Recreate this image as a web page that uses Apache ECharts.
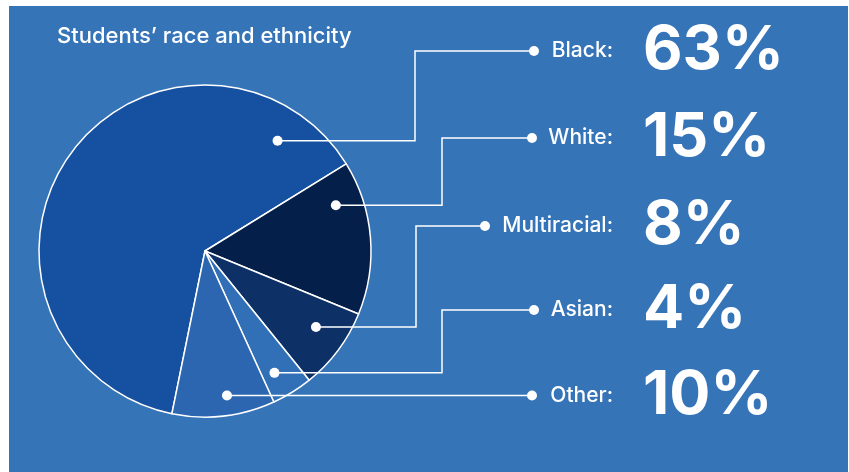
<!DOCTYPE html>
<html><head><meta charset="utf-8">
<script src="https://cdn.jsdelivr.net/npm/echarts@6/dist/echarts.min.js"></script>
<style>html,body{margin:0;padding:0;background:#fff}#c{width:849px;height:472px}</style>
</head><body><div id="c"></div>
<script>
// ---- data ----
const categories = ['Black', 'White', 'Multiracial', 'Asian', 'Other'];
const shares = [63, 15, 8, 4, 10];
const titleText = 'Students’ race and ethnicity';

// ---- styles / layout ----
const sliceColors = ['#1650a0', '#04204a', '#0d3167', '#3170b6', '#2c66b0'];
const CX = 205, CY = 251, R = 166, START = 258.5;
const rowY = [51, 138, 226, 310, 396];
const elbowX = [415, 442, 416, 442, null];
const tipX = [534, 532, 485, 534, 532];
const anchorFrac = [0.89, 0.23, 0.42, 0.64, 0.44];
const anchorRad = [0.795, 0.835, 0.81, 0.845, 0.88];
const nameRight = 613, valueLeft = 643;
const FONT = 'Inter, "Open Sans", sans-serif';

const total = shares.reduce((a, b) => a + b, 0);
function anchor(i) {
  let acc = 0;
  for (let k = 0; k < i; k++) acc += shares[k];
  const a0 = START - acc / total * 360;
  const span = shares[i] / total * 360;
  const a = (a0 - anchorFrac[i] * span) * Math.PI / 180;
  const r = R * anchorRad[i];
  return [CX + r * Math.cos(a), CY - r * Math.sin(a)];
}
function rowOf(i) { return elbowX[i] == null ? anchor(i)[1] : rowY[i]; }

const dots = [];
categories.forEach((c, i) => {
  const d = anchor(i);
  dots.push({ type: 'circle', shape: { cx: d[0], cy: d[1], r: 5 }, style: { fill: '#fff' }, z: 100, silent: true });
  dots.push({ type: 'circle', shape: { cx: tipX[i], cy: rowOf(i), r: 5 }, style: { fill: '#fff' }, z: 100, silent: true });
});

const pieData = categories.map((c, i) => ({ name: c, value: shares[i] }));
const base = {
  type: 'pie', center: [CX, CY], radius: [0, R], startAngle: START, clockwise: true,
  avoidLabelOverlap: false, emphasis: { disabled: true }, silent: true
};

const chart = echarts.init(document.getElementById('c'));
chart.setOption({
  animation: false,
  backgroundColor: '#ffffff',
  title: {
    text: titleText, left: 57, top: 25, padding: 0,
    textStyle: { color: '#fff', fontSize: 22, fontWeight: 500, fontFamily: FONT }
  },
  graphic: [
    { type: 'rect', shape: { x: 9, y: 6, width: 839, height: 466 }, style: { fill: '#3674b8' }, z: -10, silent: true }
  ].concat(dots),
  series: [
    Object.assign({}, base, {
      z: 2,
      itemStyle: { borderColor: '#fff', borderWidth: 1.5 },
      data: pieData.map((d, i) => Object.assign({}, d, { itemStyle: { color: sliceColors[i] } })),
      label: { show: false }, labelLine: { show: false }
    }),
    Object.assign({}, base, {
      z: 4,
      itemStyle: { color: 'rgba(0,0,0,0)', borderWidth: 0 },
      data: pieData,
      label: {
        show: true, position: 'outside', formatter: '{b}:',
        color: '#fff', fontSize: 21, fontWeight: 500, fontFamily: FONT
      },
      labelLine: { show: true, smooth: false, lineStyle: { color: '#fff', width: 1.5 } },
      labelLayout: function (p) {
        const i = p.dataIndex;
        const d = anchor(i);
        const y = rowOf(i);
        const pts = elbowX[i] == null
          ? [d, [(d[0] + tipX[i]) / 2, y], [tipX[i], y]]
          : [d, [elbowX[i], d[1]], [elbowX[i], y], [tipX[i], y]];
        return { x: nameRight, y: y, align: 'right', verticalAlign: 'middle', labelLinePoints: pts };
      }
    }),
    Object.assign({}, base, {
      z: 4,
      itemStyle: { color: 'rgba(0,0,0,0)', borderWidth: 0 },
      data: pieData,
      label: {
        show: true, position: 'outside', formatter: '{c}%',
        color: '#fff', fontSize: 61, fontWeight: 700, fontFamily: FONT
      },
      labelLine: { show: false },
      labelLayout: function (p) {
        return { x: valueLeft, y: rowOf(p.dataIndex), align: 'left', verticalAlign: 'middle' };
      }
    })
  ]
});
</script>
</body></html>
